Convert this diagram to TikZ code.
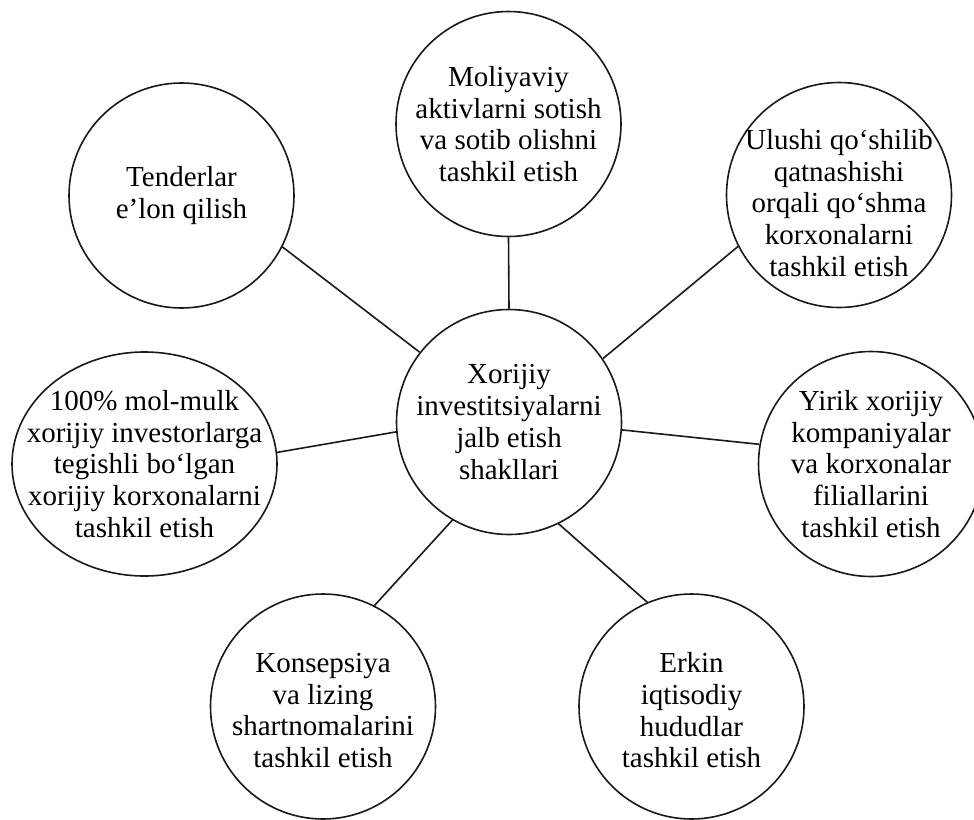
\documentclass[tikz,border=0pt]{standalone}
\usepackage{fontspec}
\setmainfont{Liberation Serif}
\usetikzlibrary{shapes.geometric}

\begin{document}
\begin{tikzpicture}[x=1pt, y=-1pt,
    every node/.style={align=center, font=\fontsize{29pt}{31.7pt}\selectfont},
    form/.style={circle, draw=black!90, line width=1.6pt, minimum size=225pt, inner sep=-30pt},
    link/.style={draw=black!90, line width=1.6pt}]
  \useasboundingbox (0,0) rectangle (974,819);
  % markaz
  \node[form] (markaz) at (509,422) {Xorijiy\\investitsiyalarni\\jalb etish\\shakllari};
  % atrofdagi shakllar
  \node[form] (moliya) at (508.5,124) {Moliyaviy\\aktivlarni sotish\\va sotib olishni\\tashkil etish};
  \node[form] (tender) at (181.5,195.5) {Tenderlar\\e’lon qilish};
  \node[form] (ulush) at (839,195) {};
  \node[yshift=-8pt] at (ulush) {Ulushi qo‘shilib\\qatnashishi\\orqali qo‘shma\\korxonalarni\\tashkil etish};
  \node[form, ellipse, inner sep=-30pt, minimum width=265pt, minimum height=224pt] (mulk) at (144.5,464)
    {100\% mol-mulk\\xorijiy investorlarga\\tegishli bo‘lgan\\xorijiy korxonalarni\\tashkil etish};
  \node[form] (filial) at (871,464) {Yirik xorijiy\\kompaniyalar\\va korxonalar\\filiallarini\\tashkil etish};
  \node[form] (lizing) at (323,706.5) {};
  \node[yshift=-4pt] at (lizing) {Konsepsiya\\va lizing\\shartnomalarini\\tashkil etish};
  \node[form] (hudud) at (691.5,706.5) {};
  \node[yshift=-4pt] at (hudud) {Erkin\\iqtisodiy\\hududlar\\tashkil etish};
  % bog'lanishlar
  \draw[link] (markaz.90) -- (moliya.-90);
  \draw[link] (markaz.142.8) -- (tender.-27.3);
  \draw[link] (markaz.34.8) -- (ulush.207);
  \draw[link] (markaz.185) -- (mulk.5);
  \draw[link] (markaz.-4.6) -- (filial.170.8);
  \draw[link] (markaz.240.8) -- (lizing.63.5);
  \draw[link] (markaz.-64.3) -- (hudud.113.9);
\end{tikzpicture}
\end{document}
